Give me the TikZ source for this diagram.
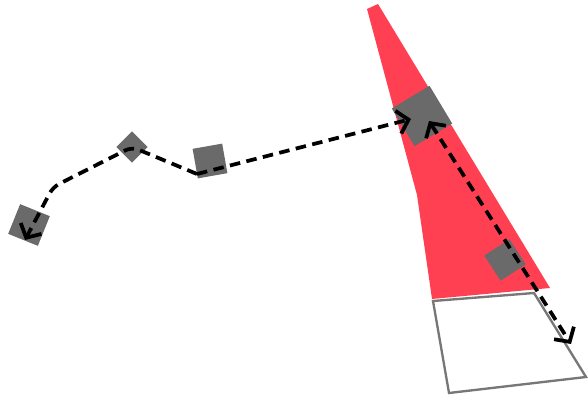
\documentclass[tikz,border=0pt]{standalone}
\usepackage{xcolor}
\definecolor{wedgered}{HTML}{FF4053}
\definecolor{boxgray}{HTML}{6A6A6A}
\definecolor{rimgray}{HTML}{777777}
\usepackage{tikz}
\usetikzlibrary{arrows.meta}

\begin{document}
\begin{tikzpicture}[
  x=0.03cm, y=-0.03cm,
  blk/.style={fill=boxgray, inner sep=0pt, outer sep=0pt},
  link/.style={line width=3.2pt, dash pattern=on 9pt off 5.5pt,
               arrows={-Straight Barb[length=9pt, width=20pt]}},
  twoway/.style={line width=3.2pt, dash pattern=on 9pt off 5.5pt,
               arrows={Straight Barb[length=9pt, width=20pt]-Straight Barb[length=9pt, width=20pt]}}
]
  \useasboundingbox (0,0) rectangle (588,399);

  % cone and the box below it
  \fill[wedgered] (367,9) -- (378,4) -- (550,288) -- (432,299) -- (417,195) -- cycle;
  \draw[rimgray, line width=2pt] (433,301) -- (534,293) -- (586,377) -- (449,393) -- cycle;

  % squares
  \node[blk, minimum size=0.96cm, rotate=-22] (left)  at (29,225)  {};
  \node[blk, minimum size=0.66cm, rotate=45]  (diam)  at (132,147) {};
  \node[blk, minimum size=0.90cm, rotate=10]  (mid)   at (210,161) {};
  \node[blk, minimum size=1.32cm, rotate=31]  (hub)   at (422,116) {};
  \node[blk, minimum size=0.90cm, rotate=33]  (low)   at (505,260) {};

  \coordinate (bend)  at (197,174);
  \coordinate (elbow) at (53,187);
  \coordinate (tipl)  at (25,240);
  \coordinate (tiph)  at (411,119);
  \coordinate (tipu)  at (429,121);
  \coordinate (tipd)  at (571,344);

  \draw[link] (bend) -- (tiph);
  \draw[link, rounded corners=6pt] (bend) -- (diam.center) -- (elbow) -- (tipl);
  \draw[twoway] (tipu) -- (tipd);
\end{tikzpicture}
\end{document}
